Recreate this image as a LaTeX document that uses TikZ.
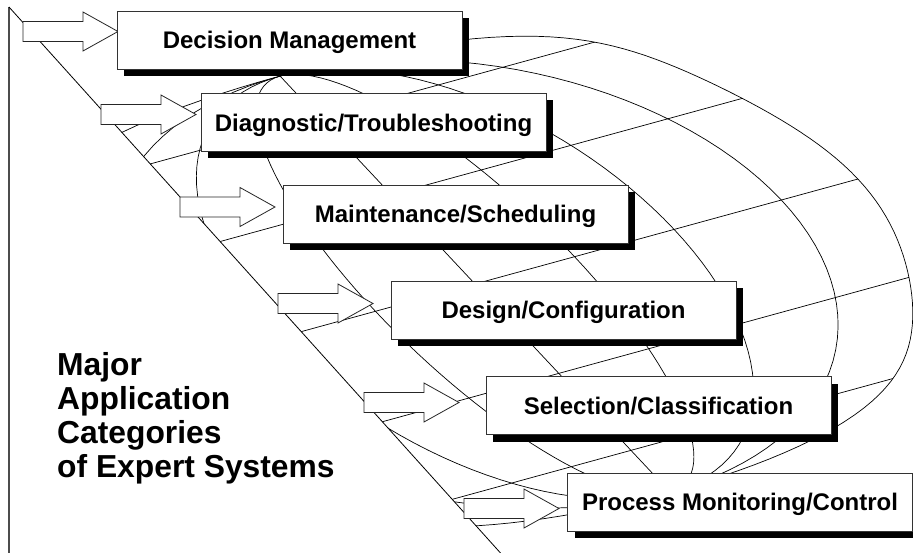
\documentclass[tikz,border=0pt]{standalone}
\usepackage{fontspec}
\setmainfont{Liberation Sans}
\usetikzlibrary{shadows}
\begin{document}
\begin{tikzpicture}[x=1pt,y=-1pt,
  globe/.style={line width=0.7pt, black},
  catbox/.style={draw=black!80, line width=0.9pt, fill=white, minimum width=345pt, minimum height=58pt, inner sep=0pt, text height=17.2pt, text depth=0pt, font=\bfseries\fontsize{24pt}{28pt}\selectfont, drop shadow={shadow xshift=7pt, shadow yshift=-7pt, fill=black, opacity=1}},
  blockarrow/.style={draw=black!85, fill=white, line width=0.8pt, line join=miter},
  bigtext/.style={anchor=base west, inner sep=0pt, font=\bfseries\fontsize{31.8pt}{34pt}\selectfont}]
\useasboundingbox (0,0) rectangle (913,553);
\clip (0,0) rectangle (913,553);
% globe, cut by the diagonal plane
\begin{scope}
  \clip (0,-3) -- (500.5,553) -- (920,553) -- (920,-10) -- (0,-10) -- cycle;
  \begin{scope}
    \clip plot[domain=0:360, samples=181, variable=\t]
      ({475-194.94*sin(\t)+382.9*cos(\t)*(1+(0.415+0.09*sin(\t))*sin(\t)*sin(\t)*sin(\t)*sin(\t))},
       {284-207.94*sin(\t)-104.97*cos(\t)*(1+(0.415+0.09*sin(\t))*sin(\t)*sin(\t)*sin(\t)*sin(\t))}) -- cycle;
    \foreach \u in {-0.8,-0.52,-0.26,0,0.26,0.52,0.8}
      \draw[globe] plot[domain=-90:90, samples=61, variable=\t]
        ({475-194.94*sin(\t)+382.9*(\u)*cos(\t)}, {284-207.94*sin(\t)-104.97*(\u)*cos(\t)});
    \foreach \d in {-228,-122.5,0,122.5,228}
      \draw[globe] ({475-0.684*(\d)-0.9645*450},{284-0.7296*(\d)+0.2644*450})
        -- ({475-0.684*(\d)+0.9645*450},{284-0.7296*(\d)-0.2644*450});
  \end{scope}
  \draw[globe] plot[domain=0:360, samples=181, variable=\t]
      ({475-194.94*sin(\t)+382.9*cos(\t)*(1+(0.415+0.09*sin(\t))*sin(\t)*sin(\t)*sin(\t)*sin(\t))},
       {284-207.94*sin(\t)-104.97*cos(\t)*(1+(0.415+0.09*sin(\t))*sin(\t)*sin(\t)*sin(\t)*sin(\t))}) -- cycle;
\end{scope}
% frame lines
\coordinate (apex) at (9,7);
\coordinate (vbot) at (9,553);
\coordinate (dbot) at (500.5,553);
\draw[line width=1.5pt, black!70] (apex) -- (vbot);
\draw[line width=0.8pt] (apex) -- (dbot);
% block arrows
\foreach \n/\x/\y in {1/23/31.5, 2/101/114.5, 3/180/207, 4/278/303.5, 5/364/402.5, 6/464/508.5} {
  \coordinate (a\n) at (\x,\y);
  \draw[blockarrow] (a\n) ++(0,-10) -- ++(60,0) -- ++(0,-9.5) -- ++(35,19.5) -- ++(-35,19.5) -- ++(0,-9.5) -- ++(-60,0) -- cycle;
}
% category boxes
\node[catbox] (b1) at (289.5,40) {Decision Management};
\node[catbox] (b2) at (373.5,122.5) {Diagnostic/Troubleshooting};
\node[catbox] (b3) at (455.5,214) {Maintenance/Scheduling};
\node[catbox] (b4) at (563.5,310) {Design/Configuration};
\node[catbox] (b5) at (658.5,405.5) {Selection/Classification};
\node[catbox] (b6) at (740,502) {Process Monitoring/Control};
% title
\node[bigtext] (t1) at (57,375) {Major};
\node[bigtext] (t2) at (57,409) {Application};
\node[bigtext] (t3) at (57,443) {Categories};
\node[bigtext] (t4) at (57,477) {of Expert Systems};
\end{tikzpicture}
\end{document}
